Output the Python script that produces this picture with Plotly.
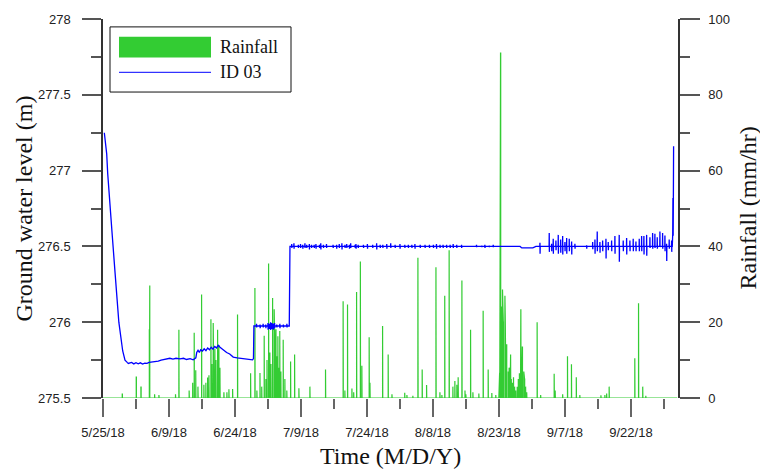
import pandas as pd
import plotly.graph_objects as go

START = pd.Timestamp("2018-05-25")

# ---------------- Rainfall (mm/hr): day offset from 5/25/18, value ----------------
rain_days = [0.0, 4.39, 7.57, 8.64, 10.55, 10.61, 11.75, 12.73, 16.5, 17.27,
             19.6, 20.4, 20.75, 21.1, 21.6, 22.43, 22.95, 23.4, 23.8, 24.1,
             24.55, 24.77, 25.07, 25.2, 25.45, 25.7, 26.07, 26.36, 26.6, 27.5,
             28.18, 28.64, 29.48, 30.6, 33.57, 34.55, 35.0, 35.7, 36.1, 36.66,
             37.05, 37.3, 37.66, 37.95, 38.2, 38.57, 38.93, 39.1, 39.3, 39.55,
             39.77, 40.0, 40.2, 40.45, 40.98, 41.36, 41.8, 42.66, 43.57, 44.55,
             47.05, 50.6, 54.6, 55.0, 55.6, 56.6, 57.0, 57.66, 58.52, 58.86,
             60.52, 60.7, 63.57, 64.84, 65.7, 68.6, 69.1, 70.45, 71.6, 72.57,
             73.57, 75.7, 76.6, 77.05, 77.7, 78.7, 79.55, 80.0, 80.45, 80.75,
             81.6, 82.3, 82.5, 83.57, 84.1, 85.45, 86.43, 87.57, 88.4, 89.3,
             90.0, 90.17, 90.38, 90.46, 90.58, 90.71, 90.83, 91.0, 91.17, 91.38,
             91.54, 91.75, 91.92, 92.13, 92.33, 92.5, 92.67, 92.83, 93.08, 93.33,
             93.58, 93.83, 94.17, 94.42, 94.67, 94.92, 95.0, 95.17, 95.33, 95.5,
             95.67, 95.83, 96.08, 96.33, 98.7, 99.5, 102.57, 102.8, 104.5, 105.6,
             106.5, 107.6, 108.4, 113.2, 114.1, 114.5, 115.07, 120.9, 121.75, 122.7,
             123.4, 130.5]
rain_vals = [0, 1.0, 5.5, 2.9, 18, 29.7, 1.0, 0.8, 1.0, 18.0,
             2.0, 4.0, 17.2, 7.3, 3, 27.3, 3.5, 4, 5.4, 6,
             20.8, 9, 19.8, 11, 13, 10, 18, 14, 8, 1.5,
             1.5, 2.3, 2.4, 22, 6.5, 29, 2, 6.6, 3, 16.4,
             5, 10, 35.5, 12, 9, 26.4, 23.4, 10, 18, 11,
             16.3, 8, 17.7, 7, 15.4, 5, 2, 9.6, 11.5, 2.6,
             3, 7.5, 25.5, 2, 24.7, 2.5, 1.5, 28, 36, 8.5,
             16, 4, 19, 11.5, 1, 1.4, 0.8, 0.6, 37, 7.5,
             3.4, 34.5, 1.5, 0.8, 27, 39, 3, 4.5, 3.5, 5.5,
             31, 2, 1, 18, 1.5, 1.2, 23, 7.5, 1.3, 0.8,
             3, 6.5, 91, 45, 24, 22, 28.6, 20, 16, 27,
             12, 14, 9, 7, 8, 6, 11.5, 5, 4, 5.5,
             3, 2, 3, 5, 6.5, 8.5, 23.4, 10, 13.4, 9,
             7, 5, 3, 1.5, 20, 0.8, 6.4, 2, 1, 11,
             8.9, 5.5, 0.8, 0.7, 0.8, 1.2, 3, 10.5, 25, 3,
             0.6, 0]

# ---------------- Ground water level (m), ID 03 ----------------
gw_days = [0.3, 0.84, 1.07, 1.59, 2.11, 2.73, 3.6, 4.48, 5.0, 5.5,
           5.75, 6.5, 7.0, 7.5, 8.0, 8.5, 9.0, 9.5, 10.0, 10.5,
           11.5, 12.57, 13.2, 13.8, 14.5, 15.2, 15.9, 16.6, 17.5, 18.3,
           19.0, 19.8, 20.5, 21.1, 21.3, 21.6, 21.9, 22.2, 22.6, 23.0,
           23.4, 23.8, 24.2, 24.6, 25.0, 25.4, 25.8, 26.2, 26.6, 27.0,
           27.5, 28.1, 28.8, 29.6, 30.5, 31.5, 32.5, 33.2, 34.0, 34.2,
           34.3, 42.34, 42.5, 94.8, 95.2, 97.7, 98.4, 129.4, 129.5, 129.55,
           129.6, 129.65, 129.7]
gw_vals = [277.25, 277.11, 276.98, 276.75, 276.57, 276.33, 276.0, 275.81, 275.75, 275.735,
           275.728, 275.735, 275.725, 275.733, 275.725, 275.732, 275.724, 275.73, 275.728, 275.735,
           275.738, 275.743, 275.75, 275.755, 275.758, 275.762, 275.756, 275.762, 275.758, 275.762,
           275.754, 275.76, 275.752, 275.765, 275.80, 275.815, 275.80, 275.818, 275.81, 275.825,
           275.812, 275.83, 275.818, 275.835, 275.822, 275.84, 275.83, 275.848, 275.835, 275.825,
           275.815, 275.80, 275.79, 275.77, 275.765, 275.76, 275.758, 275.752, 275.752, 275.76,
           275.975, 275.975, 276.50, 276.50, 276.49, 276.49, 276.50, 276.50, 276.58, 276.82,
           276.57, 276.83, 277.16]

# short excursions of the logger trace: (day, high, low) around a local level
step_level = 275.975
step_days = [34.9, 35.7, 36.4, 37.0, 37.5, 37.8, 38.1, 38.4, 38.7, 39.0, 39.5, 40.2, 41.0, 41.8]
step_hi = [275.99, 275.985, 275.99, 275.985, 275.995, 275.99, 276.0, 275.995, 275.99, 275.995,
           275.985, 275.99, 275.985, 275.99]
step_lo = [275.965, 275.96, 275.965, 275.96, 275.95, 275.955, 275.948, 275.955, 275.95, 275.96,
           275.965, 275.96, 275.965, 275.965]

plateau_level = 276.50
plateau_days = [42.9, 43.4, 44.4, 44.9, 45.4, 45.9, 46.3, 46.9, 47.4, 48.0,
                48.4, 49.2, 49.5, 50.1, 50.8, 52.3, 53.1, 53.7, 54.3, 55.0,
                55.4, 56.0, 56.3, 57.3, 57.5, 58.0, 59.2, 60.1, 61.3, 62.2,
                63.0, 63.6, 64.5, 65.4, 66.4, 67.5, 68.6, 69.4, 70.2, 70.9,
                72.1, 73.2, 74.2, 75.1, 75.8, 76.6, 77.3, 78.1, 78.9, 79.6,
                80.4, 81.5, 84.9, 86.1, 86.8, 87.8, 88.7]
plateau_hi = [276.515, 276.52, 276.51, 276.515, 276.51, 276.52, 276.51, 276.515, 276.51, 276.51,
              276.515, 276.51, 276.52, 276.51, 276.515, 276.51, 276.51, 276.515, 276.52, 276.51,
              276.515, 276.51, 276.52, 276.51, 276.515, 276.51, 276.51, 276.515, 276.51, 276.52,
              276.51, 276.51, 276.515, 276.52, 276.51, 276.515, 276.51, 276.51, 276.51, 276.515,
              276.51, 276.51, 276.51, 276.51, 276.515, 276.51, 276.51, 276.51, 276.51, 276.515,
              276.51, 276.51, 276.51, 276.505, 276.51, 276.505, 276.51]
plateau_lo = [276.49, 276.485, 276.49, 276.49, 276.485, 276.49, 276.49, 276.48, 276.49, 276.49,
              276.485, 276.49, 276.48, 276.49, 276.49, 276.49, 276.485, 276.49, 276.48, 276.49,
              276.49, 276.485, 276.49, 276.49, 276.485, 276.49, 276.49, 276.485, 276.49, 276.48,
              276.49, 276.49, 276.485, 276.49, 276.49, 276.485, 276.49, 276.49, 276.49, 276.485,
              276.49, 276.49, 276.49, 276.49, 276.485, 276.49, 276.49, 276.49, 276.49, 276.49,
              276.49, 276.49, 276.495, 276.495, 276.49, 276.495, 276.495]

late_level = 276.50
late_days = [99.32, 101.43, 101.97, 102.34, 102.95, 103.48, 104.02, 104.48, 105.0, 105.39,
             105.98, 106.52, 107.27, 109.93, 111.3, 111.82, 112.34, 112.95, 113.57, 114.32,
             114.84, 115.61, 116.36, 117.34, 118.25, 119.02, 119.77, 120.52, 121.14, 121.89,
             122.43, 122.95, 123.57, 124.32, 124.93, 125.45, 125.98, 126.59, 127.2, 127.73,
             128.11, 128.7, 129.25]
late_hi = [276.524, 276.589, 276.518, 276.55, 276.539, 276.576, 276.546, 276.568, 276.529, 276.555,
           276.55, 276.533, 276.518, 276.507, 276.529, 276.546, 276.598, 276.529, 276.539, 276.55,
           276.529, 276.539, 276.568, 276.576, 276.539, 276.555, 276.539, 276.55, 276.533, 276.55,
           276.568, 276.568, 276.576, 276.561, 276.589, 276.583, 276.561, 276.598, 276.589, 276.572,
           276.518, 276.546, 276.539]
late_lo = [276.452, 276.464, 276.468, 276.452, 276.474, 276.452, 276.459, 276.446, 276.468, 276.452,
           276.468, 276.446, 276.485, 276.485, 276.481, 276.452, 276.468, 276.459, 276.468, 276.42,
           276.474, 276.468, 276.452, 276.398, 276.468, 276.446, 276.468, 276.468, 276.468, 276.468,
           276.468, 276.446, 276.438, 276.49, 276.485, 276.49, 276.485, 276.496, 276.485, 276.468,
           276.403, 276.485, 276.464]

x_ticks_days = [0, 15, 30, 45, 60, 75, 90, 105, 120]
gw_ticks = [275.5, 276, 276.5, 277, 277.5, 278]
gw_tick_text = ["275.5", "276", "276.5", "277", "277.5", "278"]
rain_ticks = [0, 20, 40, 60, 80, 100]

# ---------------- build traces ----------------
def to_dt(days):
    return [START + pd.Timedelta(days=float(d)) for d in days]

HALF = 0.02
rx, ry = [], []
for d, v in zip(rain_days, rain_vals):
    rx += [d - HALF, d - HALF, d + HALF, d + HALF]
    ry += [0, v, v, 0]

pts = list(zip(gw_days, gw_vals))
for level, ds, his, los in [(step_level, step_days, step_hi, step_lo),
                            (plateau_level, plateau_days, plateau_hi, plateau_lo),
                            (late_level, late_days, late_hi, late_lo)]:
    for d, h, l in zip(ds, his, los):
        pts += [(d - 0.03, level), (d, h), (d + 0.03, l), (d + 0.06, level)]
pts.sort(key=lambda p: p[0])
gx = [p[0] for p in pts]
gy = [p[1] for p in pts]

GREEN = "rgb(51,204,51)"
BLUE = "rgb(0,0,255)"
SANS = "Liberation Sans, Arial, sans-serif"
SERIF = "Liberation Serif, Times New Roman, serif"

fig = go.Figure()
fig.add_trace(go.Scatter(x=to_dt(rx), y=ry, mode="lines", yaxis="y",
                         line=dict(color=GREEN, width=1.2), fill="tozeroy",
                         fillcolor=GREEN, name="Rainfall", hoverinfo="skip"))
fig.add_trace(go.Scatter(x=to_dt(gx), y=gy, mode="lines", yaxis="y2",
                         line=dict(color=BLUE, width=1.3), name="ID 03", hoverinfo="skip"))

tickfont = dict(family=SANS, size=13, color="#222")
MS_DAY = 86400000
fig.update_layout(
    width=760, height=475,
    margin=dict(l=103, r=82, t=14, b=77),
    paper_bgcolor="white", plot_bgcolor="white",
    showlegend=False,
    xaxis=dict(type="date",
               range=[START.isoformat(), (START + pd.Timedelta(days=130.7)).isoformat()],
               tickmode="array", tickvals=to_dt(x_ticks_days), tickformat="%-m/%-d/%y",
               ticks="outside", ticklen=18, tickwidth=1.5, tickcolor="#666",
               showgrid=False, zeroline=False, showline=False,
               tickfont=tickfont, ticklabelstandoff=4,
               minor=dict(tickmode="linear", tick0=START.isoformat(), dtick=7.5 * MS_DAY,
                          ticks="outside", ticklen=10, tickwidth=1.5, tickcolor="#666",
                          showgrid=False)),
    yaxis=dict(side="right", range=[0, 100], tickmode="array", tickvals=rain_ticks,
               ticks="outside", ticklen=20, tickwidth=1.5, tickcolor="#555",
               showline=True, linecolor="#333", linewidth=1.5,
               showgrid=False, zeroline=False, tickfont=tickfont, ticklabelstandoff=6,
               minor=dict(dtick=10, tick0=0, ticks="outside", ticklen=10, tickwidth=1.5,
                          tickcolor="#555", showgrid=False)),
    yaxis2=dict(side="left", overlaying="y", range=[275.5, 278], tickmode="array",
                tickvals=gw_ticks, ticktext=gw_tick_text,
                ticks="outside", ticklen=19, tickwidth=1.5, tickcolor="#555",
                showline=True, linecolor="#333", linewidth=1.5,
                showgrid=False, zeroline=False, tickfont=tickfont, ticklabelstandoff=9,
                minor=dict(dtick=0.25, tick0=275.5, ticks="outside", ticklen=10,
                           tickwidth=1.5, tickcolor="#555", showgrid=False)),
)

PW, PH = 575.0, 384.0
def px(xp):
    return (xp - 103) / PW
def py(yp):
    return (398 - yp) / PH

title_font = dict(family=SERIF, size=24, color="#111")
fig.add_annotation(text="Ground water level (m)", xref="paper", yref="paper",
                   x=px(23), y=0.5, xanchor="center", yanchor="middle",
                   textangle=-90, showarrow=False, font=title_font)
fig.add_annotation(text="Rainfall (mm/hr)", xref="paper", yref="paper",
                   x=px(747), y=0.5, xanchor="center", yanchor="middle",
                   textangle=-90, showarrow=False, font=title_font)
fig.add_annotation(text="Time (M/D/Y)", xref="paper", yref="paper",
                   x=0.5, y=py(457), xanchor="center", yanchor="middle",
                   showarrow=False, font=title_font)

# legend box drawn by hand
fig.add_shape(type="rect", xref="paper", yref="paper", x0=px(110), x1=px(291),
              y0=py(88), y1=py(22), line=dict(color="#111", width=1), fillcolor="white")
fig.add_shape(type="rect", xref="paper", yref="paper", x0=px(119), x1=px(211),
              y0=py(53), y1=py(32), line=dict(width=0), fillcolor=GREEN)
fig.add_shape(type="line", xref="paper", yref="paper", x0=px(119), x1=px(211),
              y0=py(68), y1=py(68), line=dict(color=BLUE, width=1))
legend_font = dict(family=SERIF, size=18, color="#111")
fig.add_annotation(text="Rainfall", xref="paper", yref="paper", x=px(218), y=py(42),
                   xanchor="left", yanchor="middle", showarrow=False, font=legend_font)
fig.add_annotation(text="ID 03", xref="paper", yref="paper", x=px(218), y=py(68),
                   xanchor="left", yanchor="middle", showarrow=False, font=legend_font)

fig.write_html("out.html")
